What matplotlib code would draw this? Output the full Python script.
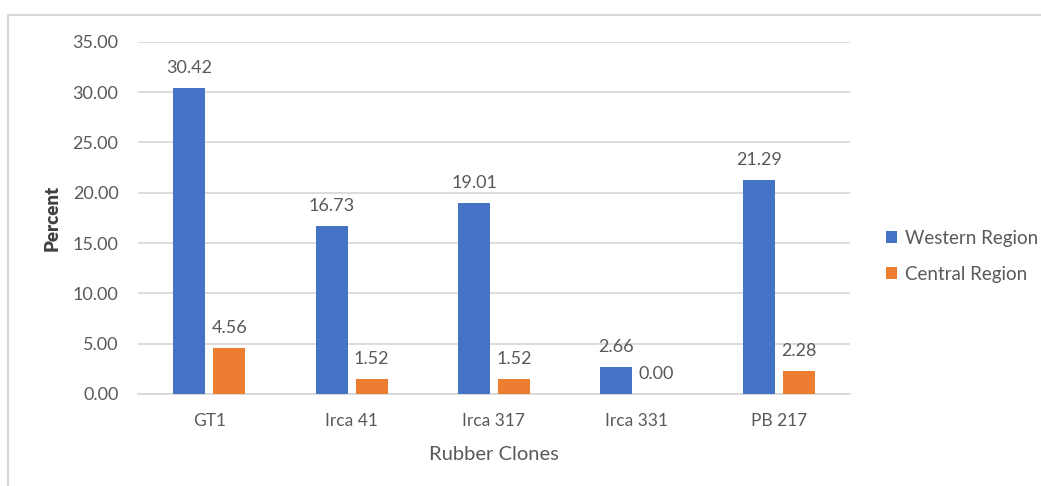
import matplotlib.pyplot as plt
import numpy as np
from matplotlib.lines import Line2D

clones = ["GT1", "Irca 41", "Irca 317", "Irca 331", "PB 217"]
western = [30.42, 16.73, 19.01, 2.66, 21.29]
central = [4.56, 1.52, 1.52, 0.00, 2.28]
yticks = [0, 5, 10, 15, 20, 25, 30, 35]

plt.rcParams['font.family'] = ['Lato', 'DejaVu Sans']

BLUE = "#4472C4"
ORANGE = "#ED7D31"
GRAY = "#595959"
GRID = "#D9D9D9"

W, H = 1041, 486
fig = plt.figure(figsize=(W / 100, H / 100), dpi=100)
# plot area: x 138..850 px, y 41.7..394 px
ax = fig.add_axes([138 / W, 1 - 394 / H, (850 - 138) / W, (394 - 41.7) / H])

x = np.arange(len(clones))
w = 0.225
gap = 0.056
b1 = ax.bar(x - (w + gap) / 2, western, w, color=BLUE, label="Western Region", zorder=3)
b2 = ax.bar(x + (w + gap) / 2, central, w, color=ORANGE, label="Central Region", zorder=3)

for bars, vals in ((b1, western), (b2, central)):
    for r, v in zip(bars, vals):
        ax.text(r.get_x() + r.get_width() / 2, v + 1.2, f"{v:.2f}",
                ha="center", va="bottom", fontsize=13, color=GRAY)

ax.set_xlim(-0.5, len(clones) - 0.5)
ax.set_ylim(0, 35)
ax.set_yticks(yticks)
ax.set_yticklabels([f"{t:.2f}" for t in yticks])
ax.set_xticks(x)
ax.set_xticklabels(clones)
ax.tick_params(axis="x", length=0, labelsize=12.5, labelcolor=GRAY, pad=14)
ax.tick_params(axis="y", length=0, labelsize=13, labelcolor=GRAY, pad=14)
ax.yaxis.grid(True, color=GRID, linewidth=1.3, zorder=0)
for s in ("top", "right", "left"):
    ax.spines[s].set_visible(False)
ax.spines["bottom"].set_color(GRID)
ax.spines["bottom"].set_linewidth(1.3)

ax.set_ylabel("Percent", fontsize=13.5, fontweight="heavy", color="#404040")
ax.yaxis.set_label_coords((52 - 138) / (850 - 138), 0.5)
ax.set_xlabel("Rubber Clones", fontsize=14.5, color=GRAY)
ax.xaxis.set_label_coords(0.5, (394 - 454) / (394 - 41.7))
ax.xaxis.label.set_va("center")
ax.yaxis.label.set_va("center")

fig.legend(handles=[b1, b2], loc="upper left", bbox_to_anchor=(886 / W, 1 - 230 / H),
           frameon=False, fontsize=13.5, handlelength=0.6, handleheight=0.6,
           handletextpad=0.4, labelspacing=1.0, labelcolor=GRAY, borderpad=0,
           borderaxespad=0)

# chart frame: top and left edges
fig.add_artist(Line2D([8 / W, 1], [1 - 15 / H, 1 - 15 / H], transform=fig.transFigure,
                      color=GRID, linewidth=1.5))
fig.add_artist(Line2D([8 / W, 8 / W], [0, 1 - 15 / H], transform=fig.transFigure,
                      color=GRID, linewidth=1.5))

fig.savefig("out.png", dpi=100)
